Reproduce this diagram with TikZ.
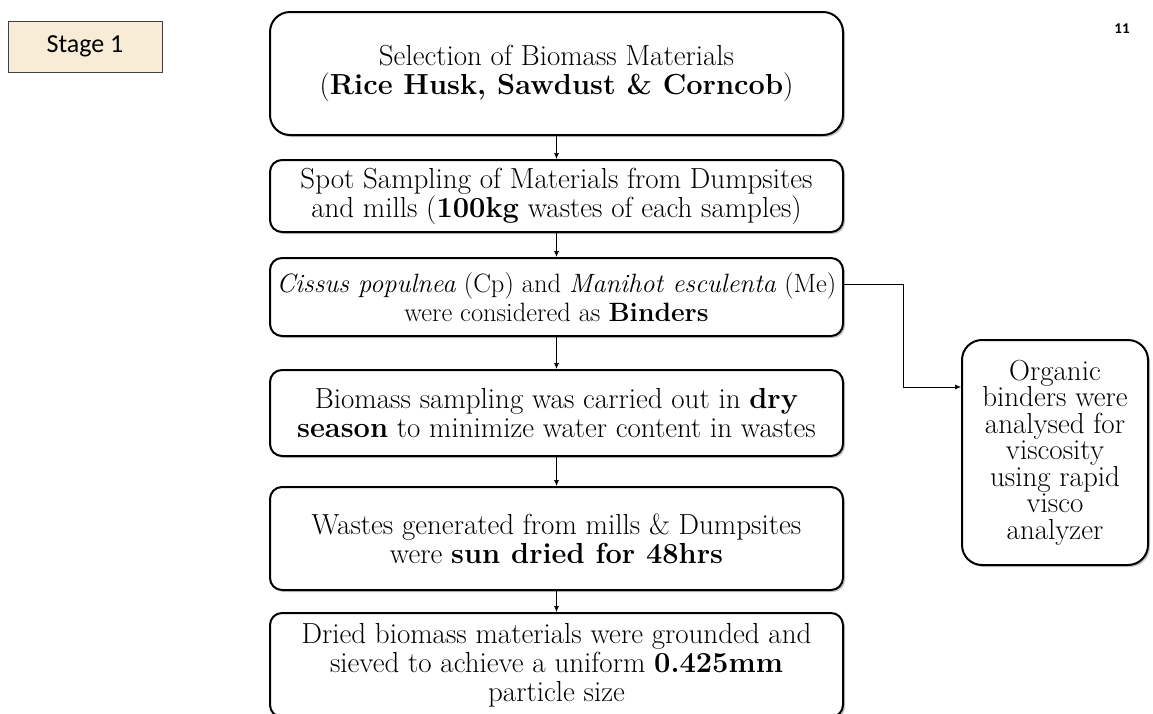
\documentclass[tikz,border=0pt]{standalone}
\usepackage{fontspec}
\newfontfamily\calibri{Carlito}
\usetikzlibrary{arrows.meta,shadows}
\definecolor{stagefill}{RGB}{249,236,214}
\begin{document}
\begin{tikzpicture}[x=1pt,y=-1pt,
    flowbox/.style={draw,line width=2pt,rounded corners=12pt,fill=white,align=center,
      minimum width=573pt,inner sep=0pt,font=\fontsize{29}{29}\selectfont,
      drop shadow={shadow xshift=2pt,shadow yshift=-2pt,fill=black!45}},
    link/.style={-{Latex[length=6pt,width=5pt]},line width=0.7pt}]
  \useasboundingbox (0,0) rectangle (1153,713);
  \node[draw=black!75,line width=1pt,fill=stagefill,minimum width=154pt,minimum height=51pt,
    font=\calibri\fontsize{26}{30}\selectfont] (stage) at (85,46.5) {Stage 1};
  \node[font=\calibri\bfseries\fontsize{15}{17}\selectfont] (pagenum) at (1122,29) {11};

  \node[flowbox,rounded corners=20pt,minimum height=123pt] (select) at (556.5,73.5)
    {Selection of Biomass Materials\\(\textbf{Rice Husk, Sawdust \& Corncob})};
  \node[flowbox,minimum height=72pt] (spot) at (556.5,196)
    {Spot Sampling of Materials from Dumpsites\\and mills (\textbf{100kg} wastes of each samples)};
  \node[flowbox,minimum height=78pt,font=\fontsize{26.5}{29}\selectfont] (binder) at (556.5,297)
    {\textit{Cissus populnea} (Cp) and \textit{Manihot esculenta} (Me)\\were considered as \textbf{Binders}};
  \node[flowbox,minimum height=86pt] (season) at (556.5,413)
    {Biomass sampling was carried out in \textbf{dry}\\\textbf{season} to minimize water content in wastes};
  \node[flowbox,minimum height=103pt] (sundry) at (556.5,538.5)
    {Wastes generated from mills \& Dumpsites\\were \textbf{sun dried for 48hrs}};
  \node[flowbox,minimum height=104pt] (sieve) at (556.5,665)
    {Dried biomass materials were grounded and\\sieved to achieve a uniform \textbf{0.425mm}\\particle size};
  \node[flowbox,rounded corners=20pt,minimum width=186pt,minimum height=225pt,
    font=\fontsize{29}{26.5}\selectfont] (visc) at (1055,452.5)
    {Organic\\binders were\\analysed for\\viscosity\\using rapid\\visco\\analyzer};

  \draw[link] (select) -- (spot);
  \draw[link] (spot) -- (binder);
  \draw[link] (binder) -- (season);
  \draw[link] (season) -- (sundry);
  \draw[link] (sundry) -- (sieve);
  \draw[link] ([yshift=13pt]binder.east) -- ++(59,0) |- ([yshift=65.5pt]visc.west);
\end{tikzpicture}
\end{document}
